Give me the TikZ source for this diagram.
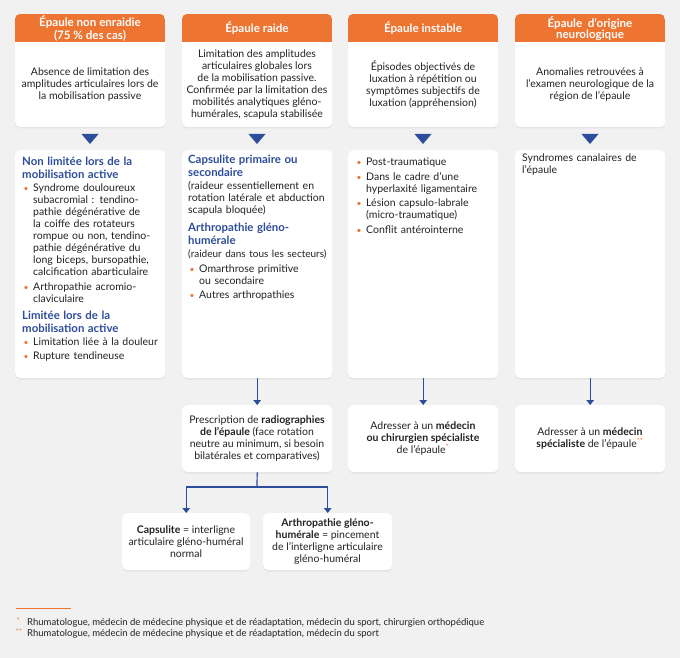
\documentclass[tikz,border=0pt]{standalone}
\usepackage{fontspec}
\setmainfont{Lato}
\usetikzlibrary{arrows.meta,shadows}
\definecolor{bg}{HTML}{F1F1F1}
\definecolor{org}{HTML}{EE7431}
\definecolor{blu}{HTML}{2C4D9C}
\definecolor{txt}{HTML}{222222}
\newcommand{\bodyf}{\fontsize{10.5}{12}\selectfont}
\newcommand{\hd}[1]{{\color{blu}\bfseries\fontsize{11.4}{13}\selectfont #1\par}\vspace{1pt}}
\newcommand{\bul}[1]{\par\noindent\makebox[11pt][l]{\hspace{1.5pt}\textcolor{org}{\fontsize{8.5}{8}\selectfont\textbullet}}\parbox[t]{128pt}{\raggedright #1\strut}\par\prevdepth=\dp\strutbox\vspace{2.5pt}}
\tikzset{
  box/.style={fill=white, draw=none, rounded corners=5pt, anchor=north west, inner sep=0pt,
    drop shadow={opacity=0.13, shadow xshift=0pt, shadow yshift=-1.3pt}},
  hdtext/.style={text=white, font=\bfseries\fontsize{11.6}{11}\selectfont, align=center, inner sep=0pt},
  ctext/.style={text=txt, font=\bodyf, align=center, inner sep=0pt},
  ltext/.style={text=txt, font=\bodyf, align=left, anchor=north west, inner sep=0pt, text width=146pt},
  conn/.style={draw=blu, line width=1.2pt, -{Triangle[width=7.5pt,length=5pt]}},
  tri/.style={fill=blu},
  fnote/.style={anchor=west, inner sep=0pt, text=txt, font=\fontsize{9.5}{10}\selectfont}
}
\begin{document}
\begin{tikzpicture}[x=1pt,y=-1pt]
\useasboundingbox (0,0) rectangle (680,658);
\fill[bg] (0,0) rectangle (680,658);

% ---------- row 1 ----------
\foreach \xx/\nm in {15/b1,182/b2,348/b3,515/b4}{
  \node[box, minimum width=150pt, minimum height=113pt] (\nm) at (\xx,14) {};
  \begin{scope}
    \clip[rounded corners=5pt] (\xx,14) rectangle ++(150,113);
    \fill[org] (\xx,14) rectangle ++(150,28);
  \end{scope}
}
\node[hdtext] (h1) at (90,28.5) {Épaule non enraidie\\(75 \% des cas)};
\node[hdtext] (h2) at (257,28.5) {Épaule raide};
\node[hdtext] (h3) at (423,28.5) {Épaule instable};
\node[hdtext] (h4) at (590,28.5) {Épaule\ \ d'origine\\neurologique};

\node[ctext] (t1) at (90,84.5) {Absence de limitation des\\amplitudes articulaires lors de\\la mobilisation passive};
\node[ctext] (t2) at (257,84.5) {Limitation des amplitudes\\articulaires globales lors\\de la mobilisation passive.\\Confirmée par la limitation des\\mobilités analytiques gléno-\\humérales, scapula stabilisée};
\node[ctext] (t3) at (423,84.5) {Épisodes objectivés de\\luxation à répétition ou\\symptômes subjectifs de\\luxation (appréhension)};
\node[ctext] (t4) at (590,84.5) {Anomalies retrouvées à\\l'examen neurologique de la\\région de l'épaule};

% triangles
\foreach \cx in {90,257,423,590}{
  \fill[tri] (\cx-8.5,134) -- (\cx+8.5,134) -- (\cx,144) -- cycle;
}

% ---------- row 2 ----------
\node[box, minimum width=150pt, minimum height=228pt] (c1) at (15,150) {};
\node[box, minimum width=150pt, minimum height=228pt] (c2) at (182,150) {};
\node[box, minimum width=150pt, minimum height=228pt] (c3) at (348,150) {};
\node[box, minimum width=150pt, minimum height=228pt] (c4) at (515,150) {};

\node[ltext] (d1) at (22,157) {%
\hd{Non limitée lors de la\\mobilisation active}
\bul{Syndrome douloureux\\subacromial : tendino-\\pathie dégénérative de\\la coiffe des rotateurs\\rompue ou non, tendino-\\pathie dégénérative du\\long biceps, bursopathie,\\calcification abarticulaire}
\bul{Arthropathie acromio-\\claviculaire}
\vspace{1.5pt}
\hd{Limitée lors de la\\mobilisation active}
\bul{Limitation liée à la douleur}
\bul{Rupture tendineuse}};

\node[ltext] (d2) at (188,155) {%
\hd{Capsulite primaire ou\\secondaire}
(raideur essentiellement en\\rotation latérale et abduction\\scapula bloquée)\par\vspace{4.5pt}
\hd{Arthropathie gléno-\\humérale}
\mbox{\fontsize{10}{12}\selectfont (raideur dans tous les secteurs)}\par\vspace{3pt}
\bul{Omarthrose primitive\\ou secondaire}
\bul{Autres arthropathies}};

\node[ltext] (d3) at (355,153.5) {%
\bul{Post-traumatique}
\bul{Dans le cadre d'une\\hyperlaxité ligamentaire}
\bul{Lésion capsulo-labrale\\(micro-traumatique)}
\bul{Conflit antérointerne}};

\node[ltext] (d4) at (522,153.5) {Syndromes canalaires de\\l'épaule};

% ---------- row 3 ----------
\node[box, minimum width=150pt, minimum height=67pt] (e2) at (182,405) {};
\node[box, minimum width=150pt, minimum height=67pt] (e3) at (348,405) {};
\node[box, minimum width=150pt, minimum height=67pt] (e4) at (515,405) {};
\node[ctext] (f2) at (257,438.5) {Prescription de \textbf{radiographies}\\\textbf{de l'épaule} (face rotation\\neutre au minimum, si besoin\\bilatérales et comparatives)};
\node[ctext] (f3) at (423,438.5) {Adresser à un \textbf{médecin}\\\textbf{ou chirurgien spécialiste}\\de l'épaule\textsuperscript{\textcolor{org}{*}}};
\node[ctext] (f4) at (590,438.5) {Adresser à un \textbf{médecin}\\\textbf{spécialiste} de l'épaule\textsuperscript{\textcolor{org}{**}}};

% ---------- row 4 ----------
\node[box, minimum width=128pt, minimum height=57pt] (g1) at (122,513) {};
\node[box, minimum width=129pt, minimum height=57pt] (g2) at (263,513) {};
\node[ctext] (k1) at (186,541.5) {\textbf{Capsulite} = interligne\\articulaire gléno-huméral\\normal};
\node[ctext] (k2) at (327.5,541.5) {\textbf{Arthropathie gléno-}\\\textbf{humérale} = pincement\\de l'interligne articulaire\\gléno-huméral};

% ---------- connectors ----------
\draw[conn] (c2.south) -- (e2.north);
\draw[conn] (c3.south) -- (e3.north);
\draw[conn] (c4.south) -- (e4.north);
\coordinate (split) at (257,487);
\draw[draw=blu, line width=1.2pt] (e2.south) -- (split);
\draw[conn] (split) -| (g1.north);
\draw[conn] (split) -| (g2.north);

% ---------- footnotes ----------
\draw[org, line width=0.8pt] (16,608) -- (71,608);
\node[fnote] (n1) at (27,623) {Rhumatologue, médecin de médecine physique et de réadaptation, médecin du sport, chirurgien orthopédique};
\node[fnote] (n2) at (27,634) {Rhumatologue, médecin de médecine physique et de réadaptation, médecin du sport};
\node[anchor=north west, inner sep=0pt, text=org, font=\fontsize{7.5}{7}\selectfont] (s1) at (16.5,618) {*};
\node[anchor=north west, inner sep=0pt, text=org, font=\fontsize{7.5}{7}\selectfont] (s2) at (15.5,629) {**};
\end{tikzpicture}
\end{document}
